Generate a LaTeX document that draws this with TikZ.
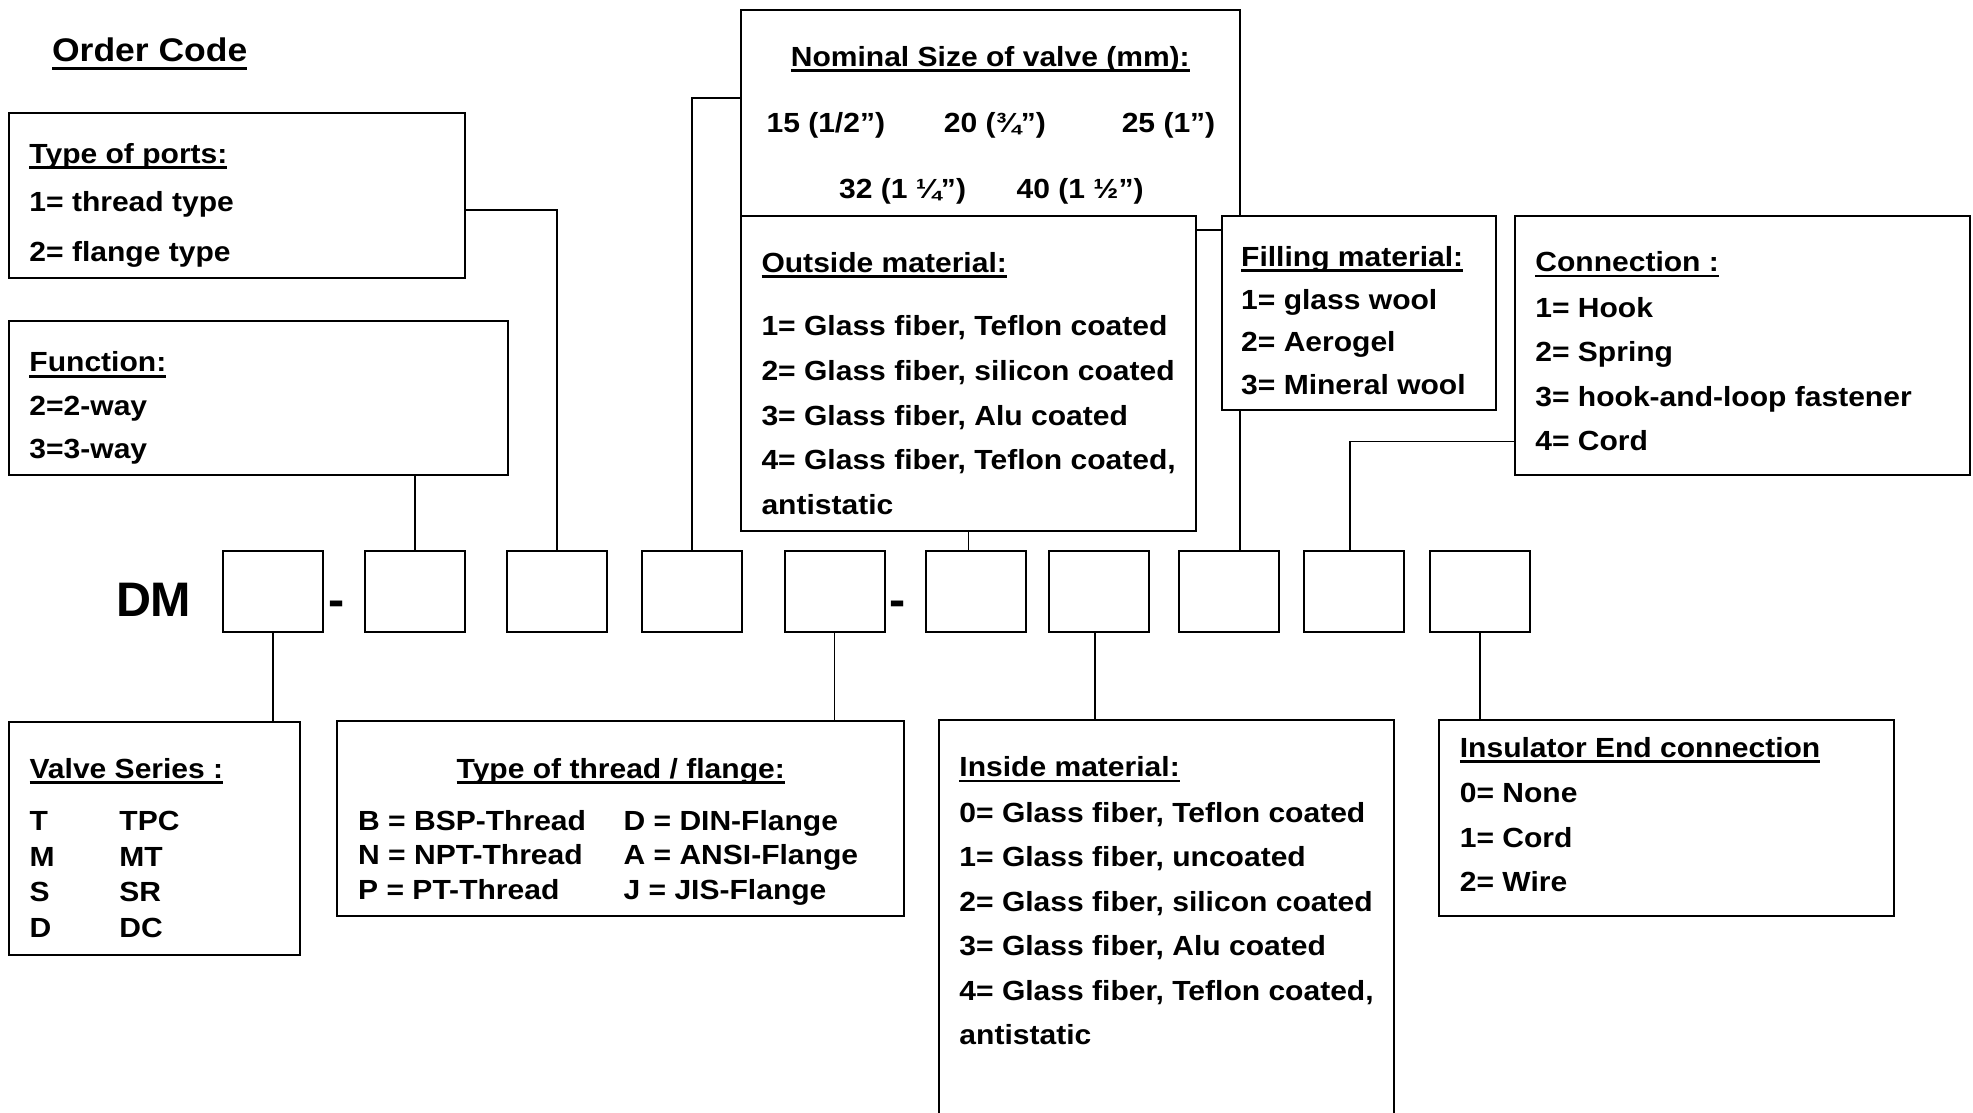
\documentclass[tikz,border=0pt]{standalone}
\usepackage{fontspec}
\setmainfont{Liberation Sans}[FakeStretch=1.085]
\newfontfamily\dmfont{Liberation Sans}
\newsavebox\ulbox
\newcommand\ulx[1]{\sbox\ulbox{#1}\rlap{\rule[-4.6pt]{\wd\ulbox}{2.3pt}}\usebox\ulbox}
\newcommand\ulbig[1]{\sbox\ulbox{#1}\rlap{\rule[-6.6pt]{\wd\ulbox}{2.6pt}}\usebox\ulbox}
\tikzset{
  box/.style={draw, line width=1.6pt, fill=white, inner sep=0pt, outer sep=0pt, anchor=north west},
  cbox/.style={box, minimum width=79.5pt, minimum height=65pt},
  conn/.style={line width=1.3pt},
  txt/.style={anchor=base west, inner sep=0pt, font=\fontsize{22}{26}\selectfont\bfseries},
  ctxt/.style={txt, anchor=base},
}
\begin{document}
\begin{tikzpicture}[x=1pt,y=-1pt]
\useasboundingbox (0,0) rectangle (1568,884);
\clip (0,0) rectangle (1568,884);
\fill[white] (0,0) rectangle (1568,884);

% title
\node[txt, font=\fontsize{26}{30}\selectfont\bfseries] (title) at (41.2,49) {\ulbig{Order Code}};

% upper boxes
\node[box, minimum width=396.6pt, minimum height=174.8pt] (nom) at (588.8,7.7) {};
\node[box, minimum width=361.7pt, minimum height=249.9pt] (outside) at (588.8,171.7) {};
\node[box, minimum width=218.2pt, minimum height=154.2pt] (filling) at (970.8,171.7) {};
\node[box, minimum width=361.9pt, minimum height=206.1pt] (connbox) at (1204,171.4) {};
\node[box, minimum width=362.7pt, minimum height=131pt] (ports) at (6.8,90) {};
\node[box, minimum width=397pt, minimum height=122.6pt] (func) at (7,255) {};

% lower boxes
\node[box, minimum width=230.8pt, minimum height=185.5pt] (valve) at (7.5,573.8) {};
\node[box, minimum width=450.1pt, minimum height=154.8pt] (thread) at (268.2,573) {};
\node[box, minimum width=361.8pt, minimum height=340pt] (inside) at (746.2,572.3) {};
\node[box, minimum width=361.3pt, minimum height=155.4pt] (insul) at (1143.9,572.3) {};

% code row
\node[anchor=base west, inner sep=0pt, font=\dmfont\fontsize{38.5}{40}\selectfont\bfseries] (dm) at (92,490) {DM};
\node[cbox] (c1) at (177,437.5) {};
\node[anchor=base west, inner sep=0pt, font=\dmfont\fontsize{38.5}{40}\selectfont\bfseries] (d1) at (260.5,490) {-};
\node[cbox] (c2) at (290,437.5) {};
\node[cbox] (c3) at (403,437.5) {};
\node[cbox] (c4) at (510,437.5) {};
\node[cbox] (c5) at (623.5,437.5) {};
\node[anchor=base west, inner sep=0pt, font=\dmfont\fontsize{38.5}{40}\selectfont\bfseries] (d2) at (706.5,490) {-};
\node[cbox] (c6) at (736,437.5) {};
\node[cbox] (c7) at (834,437.5) {};
\node[cbox] (c8) at (937,437.5) {};
\node[cbox] (c9) at (1036,437.5) {};
\node[cbox] (c10) at (1136.5,437.5) {};

% connectors
\draw[conn] (func.south -| c2.north) -- (c2.north);
\draw[conn] ([yshift=-77pt]ports.north east) -| (c3.north);
\draw[conn] ([yshift=-70.3pt]nom.north west) -| (c4.north);
\draw[conn] (outside.south) -- (outside.south |- c6.north);
\draw[conn] (filling.south -| nom.east) -- (nom.east |- c8.north);
\draw[conn] ([yshift=-179.6pt]connbox.north west) -| ([xshift=-3pt]c9.north);
\draw[conn] (c1.south) -- (c1.south |- valve.north);
\draw[conn] (c5.south) -- (c5.south |- thread.north);
\draw[conn] ([xshift=-3.5pt]c7.south) -- ([xshift=-3.5pt]c7.south |- inside.north);
\draw[conn] (c10.south) -- (c10.south |- insul.north);

% ports text
\node[txt] (pt0) at (23.2,130) {\ulx{Type of ports:}};
\node[txt] (pt1) at (23.2,168) {1= thread type};
\node[txt] (pt2) at (23.2,208) {2= flange type};

% function text
\node[txt] (ft0) at (23.2,295.5) {\ulx{Function:}};
\node[txt] (ft1) at (23.2,330) {2=2-way};
\node[txt] (ft2) at (23.2,364) {3=3-way};

% nominal text
\node[ctxt] (nt0) at (787,52.5) {\ulx{Nominal Size of valve (mm):}};
\node[txt] (nt1) at (609,105.6) {15 (1/2”)};
\node[txt] (nt2) at (750,105.6) {20 (¾”)};
\node[txt] (nt3) at (891.3,105.6) {25 (1”)};
\node[txt] (nt4) at (666.7,157.5) {32 (1 ¼”)};
\node[txt] (nt5) at (807.8,157.5) {40 (1 ½”)};

% outside text
\node[txt] (ot0) at (605,216.3) {\ulx{Outside material:}};
\node[txt] (ot1) at (605,266.8) {1= Glass fiber, Teflon coated};
\node[txt] (ot2) at (605,302.3) {2= Glass fiber, silicon coated};
\node[txt] (ot3) at (605,337.8) {3= Glass fiber, Alu coated};
\node[txt] (ot4) at (605,373.3) {4= Glass fiber, Teflon coated,};
\node[txt] (ot5) at (605,408.8) {antistatic};

% filling text
\node[txt] (fl0) at (986.2,211.5) {\ulx{Filling material:}};
\node[txt] (fl1) at (986.2,245.6) {1= glass wool};
\node[txt] (fl2) at (986.2,279.6) {2= Aerogel};
\node[txt] (fl3) at (986.2,313.7) {3= Mineral wool};

% connection text
\node[txt] (cn0) at (1220,215.9) {\ulx{Connection :}};
\node[txt] (cn1) at (1220,252.2) {1= Hook};
\node[txt] (cn2) at (1220,287.5) {2= Spring};
\node[txt] (cn3) at (1220,322.7) {3= hook-and-loop fastener};
\node[txt] (cn4) at (1220,358.2) {4= Cord};

% valve series text
\node[txt] (vs0) at (23.3,618.6) {\ulx{Valve Series :}};
\node[txt] (vs1) at (23.3,659.7) {T};
\node[txt] (vs2) at (23.3,688.8) {M};
\node[txt] (vs3) at (23.3,716.6) {S};
\node[txt] (vs4) at (23.3,745) {D};
\node[txt] (vs5) at (94.7,659.7) {TPC};
\node[txt] (vs6) at (94.7,688.8) {MT};
\node[txt] (vs7) at (94.7,716.6) {SR};
\node[txt] (vs8) at (94.7,745) {DC};

% thread text
\node[ctxt] (th0) at (493.3,618.6) {\ulx{Type of thread / flange:}};
\node[txt] (th1) at (284.5,659.7) {B = BSP-Thread};
\node[txt] (th2) at (284.5,686.7) {N = NPT-Thread};
\node[txt] (th3) at (284.5,714.8) {P = PT-Thread};
\node[txt] (th4) at (495.4,659.7) {D = DIN-Flange};
\node[txt] (th5) at (495.4,686.7) {A = ANSI-Flange};
\node[txt] (th6) at (495.4,714.8) {J = JIS-Flange};

% inside text
\node[txt] (in0) at (762.3,617.2) {\ulx{Inside material:}};
\node[txt] (in1) at (762.3,653.3) {0= Glass fiber, Teflon coated};
\node[txt] (in2) at (762.3,688.6) {1= Glass fiber, uncoated};
\node[txt] (in3) at (762.3,724.3) {2= Glass fiber, silicon coated};
\node[txt] (in4) at (762.3,759.7) {3= Glass fiber, Alu coated};
\node[txt] (in5) at (762.3,795.2) {4= Glass fiber, Teflon coated,};
\node[txt] (in6) at (762.3,830.2) {antistatic};

% insulator text
\node[txt] (ie0) at (1160,601.7) {\ulx{Insulator End connection}};
\node[txt] (ie1) at (1160,637.7) {0= None};
\node[txt] (ie2) at (1160,673.6) {1= Cord};
\node[txt] (ie3) at (1160,708.7) {2= Wire};
\end{tikzpicture}
\end{document}
